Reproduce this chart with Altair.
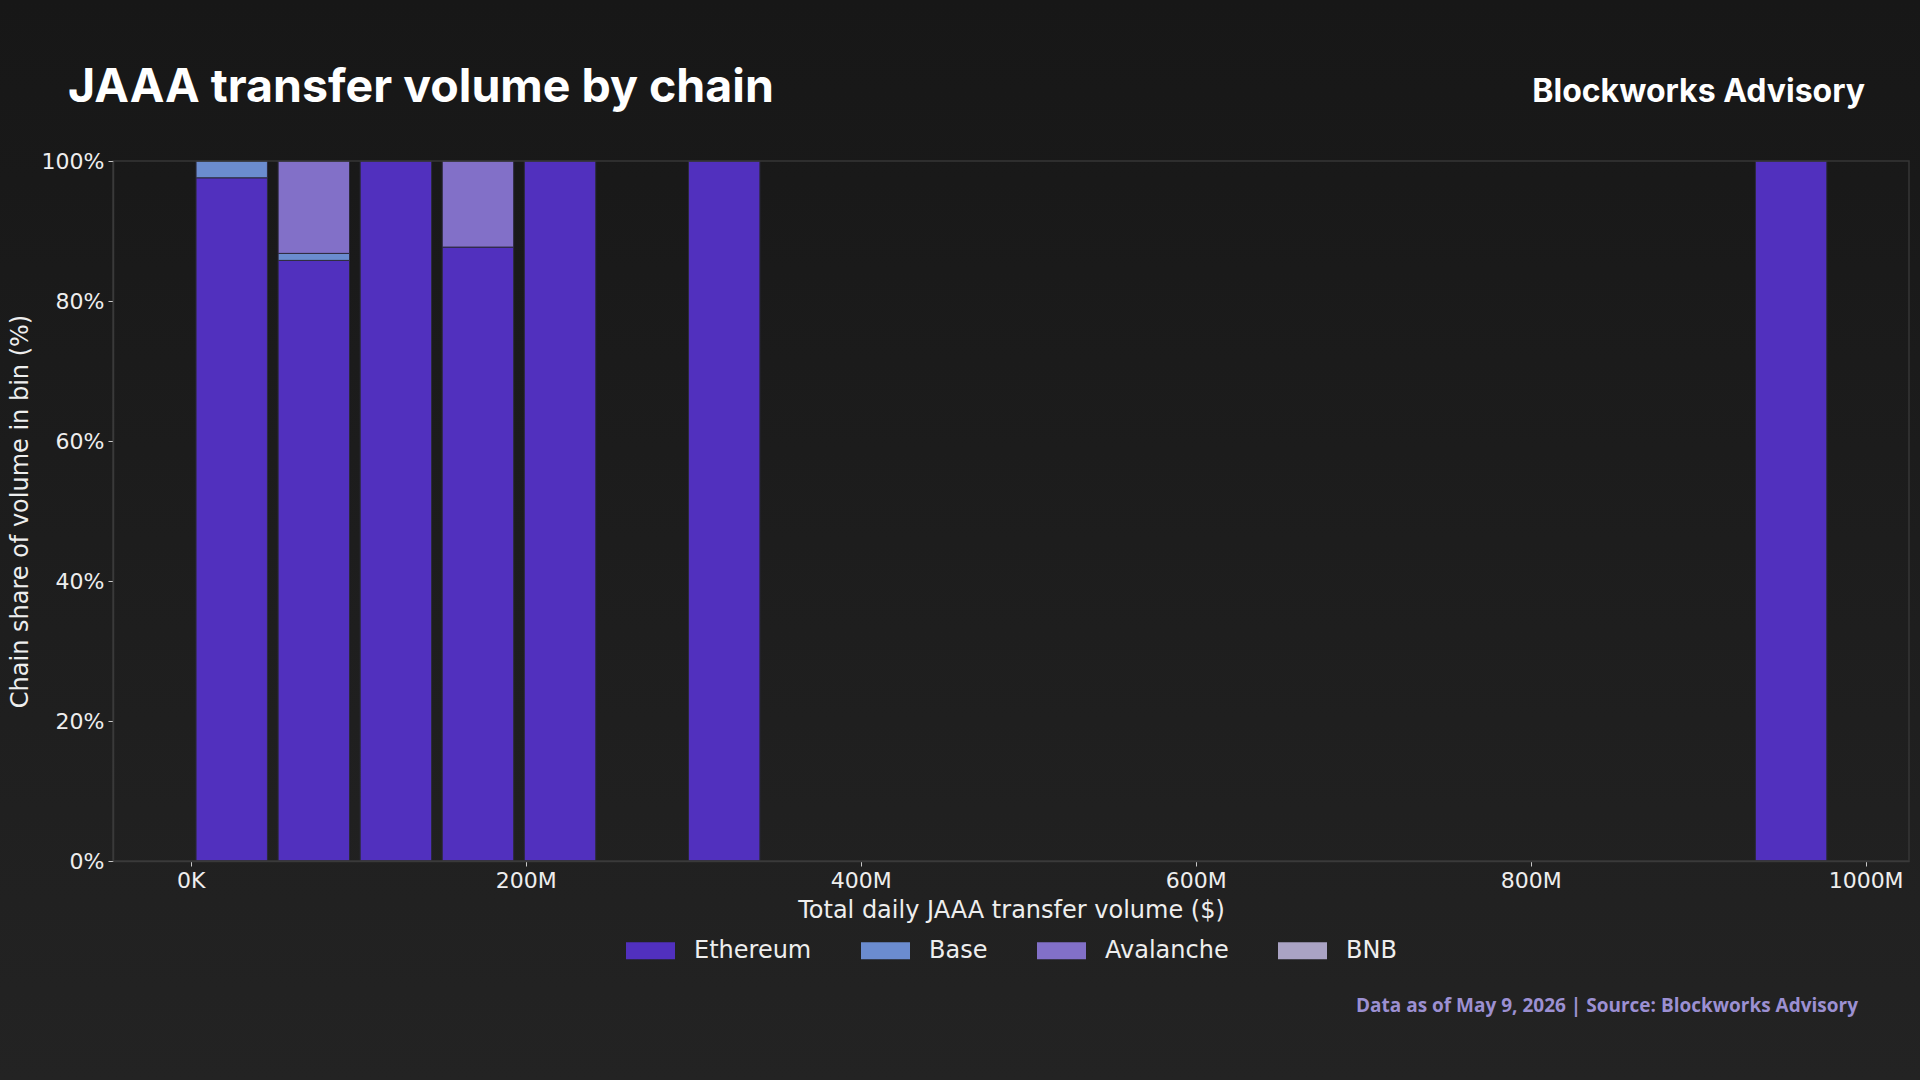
import altair as alt
import pandas as pd

# ---- data ----
chains = ["Ethereum", "Base", "Avalanche", "BNB"]
chain_colors = ["#5130be", "#6b8ccf", "#8270c8", "#aaa3c4"]

# histogram bins of total daily volume, $M (bin width 49M)
bin_centers_m = [24.5, 73.5, 122.5, 171.5, 220.5, 318.5, 955.5]
bin_width_m = 49.0

# chain share of volume inside each bin (%)
share_ethereum = [97.6, 85.8, 100.0, 87.7, 100.0, 100.0, 100.0]
share_base = [2.4, 1.0, 0.0, 0.0, 0.0, 0.0, 0.0]
share_avalanche = [0.0, 13.2, 0.0, 12.3, 0.0, 0.0, 0.0]
share_bnb = [0.0, 0.0, 0.0, 0.0, 0.0, 0.0, 0.0]

x_ticks_m = [0, 200, 400, 600, 800, 1000]
y_ticks = [0, 0.2, 0.4, 0.6, 0.8, 1.0]

title_text = "JAAA transfer volume by chain"
brand_text = "Blockworks Advisory"
footer_text = "Data as of May 9, 2026 | Source: Blockworks Advisory"

# ---- build long table ----
rows = []
series = [share_ethereum, share_base, share_avalanche, share_bnb]
half = bin_width_m * 0.435
for i, c in enumerate(bin_centers_m):
    cum = 0.0
    for name, vals in zip(chains, series):
        v = vals[i]
        if v > 0:
            rows.append({
                "chain": name,
                "order": chains.index(name),
                "x0": c - half,
                "x1": c + half,
                "y0": cum / 100.0,
                "y1": (cum + v) / 100.0,
                "share": v,
            })
        cum += v
df = pd.DataFrame(rows)

W, H = 1796, 700
PAD_L, PAD_T, PAD_R, PAD_B = 113, 161, 11, 219

one = alt.Data(values=[{"k": 1}])

background = alt.Chart(one).mark_rect(
    color=alt.LinearGradient(
        gradient="linear",
        stops=[alt.GradientStop(color="#171717", offset=0),
               alt.GradientStop(color="#232323", offset=1)],
        x1=0, x2=0, y1=0, y2=1,
    )
).encode(
    x=alt.value(-PAD_L), x2=alt.value(W + PAD_R),
    y=alt.value(-PAD_T), y2=alt.value(H + PAD_B),
)

bars = alt.Chart(df).mark_bar(stroke="#2c2a3c", strokeWidth=1).encode(
    x=alt.X("x0:Q",
            scale=alt.Scale(domain=[-46.4, 1025.9], nice=False, zero=False),
            axis=alt.Axis(values=x_ticks_m,
                          labelExpr="datum.value == 0 ? '0K' : datum.value + 'M'",
                          title="Total daily JAAA transfer volume ($)",
                          grid=False, zindex=1,
                          tickSize=5, labelPadding=4, titlePadding=7,
                          domainColor="#3a3a3a", domainWidth=1.5,
                          tickColor="#c8c8c8", tickWidth=1,
                          labelFont="DejaVu Sans", labelFontSize=22, labelColor="#eeeeee",
                          titleFont="DejaVu Sans", titleFontSize=24, titleFontWeight="normal",
                          titleColor="#eeeeee")),
    x2="x1:Q",
    y=alt.Y("y0:Q",
            scale=alt.Scale(domain=[0, 1], nice=False),
            axis=alt.Axis(values=y_ticks, format=".0%",
                          title="Chain share of volume in bin (%)",
                          grid=False, zindex=1,
                          tickSize=5, labelPadding=4, titlePadding=9,
                          domainColor="#3a3a3a", domainWidth=1.5,
                          tickColor="#c8c8c8", tickWidth=1,
                          labelFont="DejaVu Sans", labelFontSize=22, labelColor="#eeeeee",
                          titleFont="DejaVu Sans", titleFontSize=24, titleFontWeight="normal",
                          titleColor="#eeeeee")),
    y2="y1:Q",
    color=alt.Color("chain:N",
                    scale=alt.Scale(domain=chains, range=chain_colors),
                    legend=alt.Legend(orient="none", legendX=513, legendY=765,
                                      direction="horizontal", title=None,
                                      symbolType="M-1,-0.35H1V0.35H-1Z",
                                      symbolSize=2401, symbolStrokeWidth=0,
                                      symbolOpacity=1,
                                      labelFont="DejaVu Sans", labelFontSize=24,
                                      labelColor="#eeeeee", labelOffset=19,
                                      columnPadding=49, padding=0, zindex=1)),
    order=alt.Order("order:Q"),
    tooltip=["chain:N", "share:Q"],
)

border = alt.Chart(one).mark_rect(fill="transparent", stroke="#363636", strokeWidth=1.5).encode(
    x=alt.value(0), x2=alt.value(W), y=alt.value(0), y2=alt.value(H)
)

title = alt.Chart(alt.Data(values=[{"t": title_text}])).mark_text(
    align="left", baseline="alphabetic", font="Inter", fontWeight="bold",
    fontSize=46.5, color="#ffffff"
).encode(x=alt.value(68 - PAD_L), y=alt.value(102 - PAD_T), text="t:N")

brand = alt.Chart(alt.Data(values=[{"t": brand_text}])).mark_text(
    align="right", baseline="alphabetic", font="Inter", fontWeight="bold",
    fontSize=32, color="#ffffff"
).encode(x=alt.value(1865 - PAD_L), y=alt.value(102 - PAD_T), text="t:N")

footer = alt.Chart(alt.Data(values=[{"t": footer_text}])).mark_text(
    align="right", baseline="alphabetic", font="Open Sans", fontWeight="bold",
    fontSize=19, color="#9c90d2"
).encode(x=alt.value(1858 - PAD_L), y=alt.value(1012 - PAD_T), text="t:N")

chart = alt.layer(background, bars, border, title, brand, footer).properties(
    width=W, height=H,
    autosize=alt.AutoSizeParams(type="none"),
    padding={"left": PAD_L, "top": PAD_T, "right": PAD_R, "bottom": PAD_B},
).configure(background="#1d1d1d").configure_view(stroke=None)

chart.save("out.html", embed_options={"renderer": "svg", "actions": False})
